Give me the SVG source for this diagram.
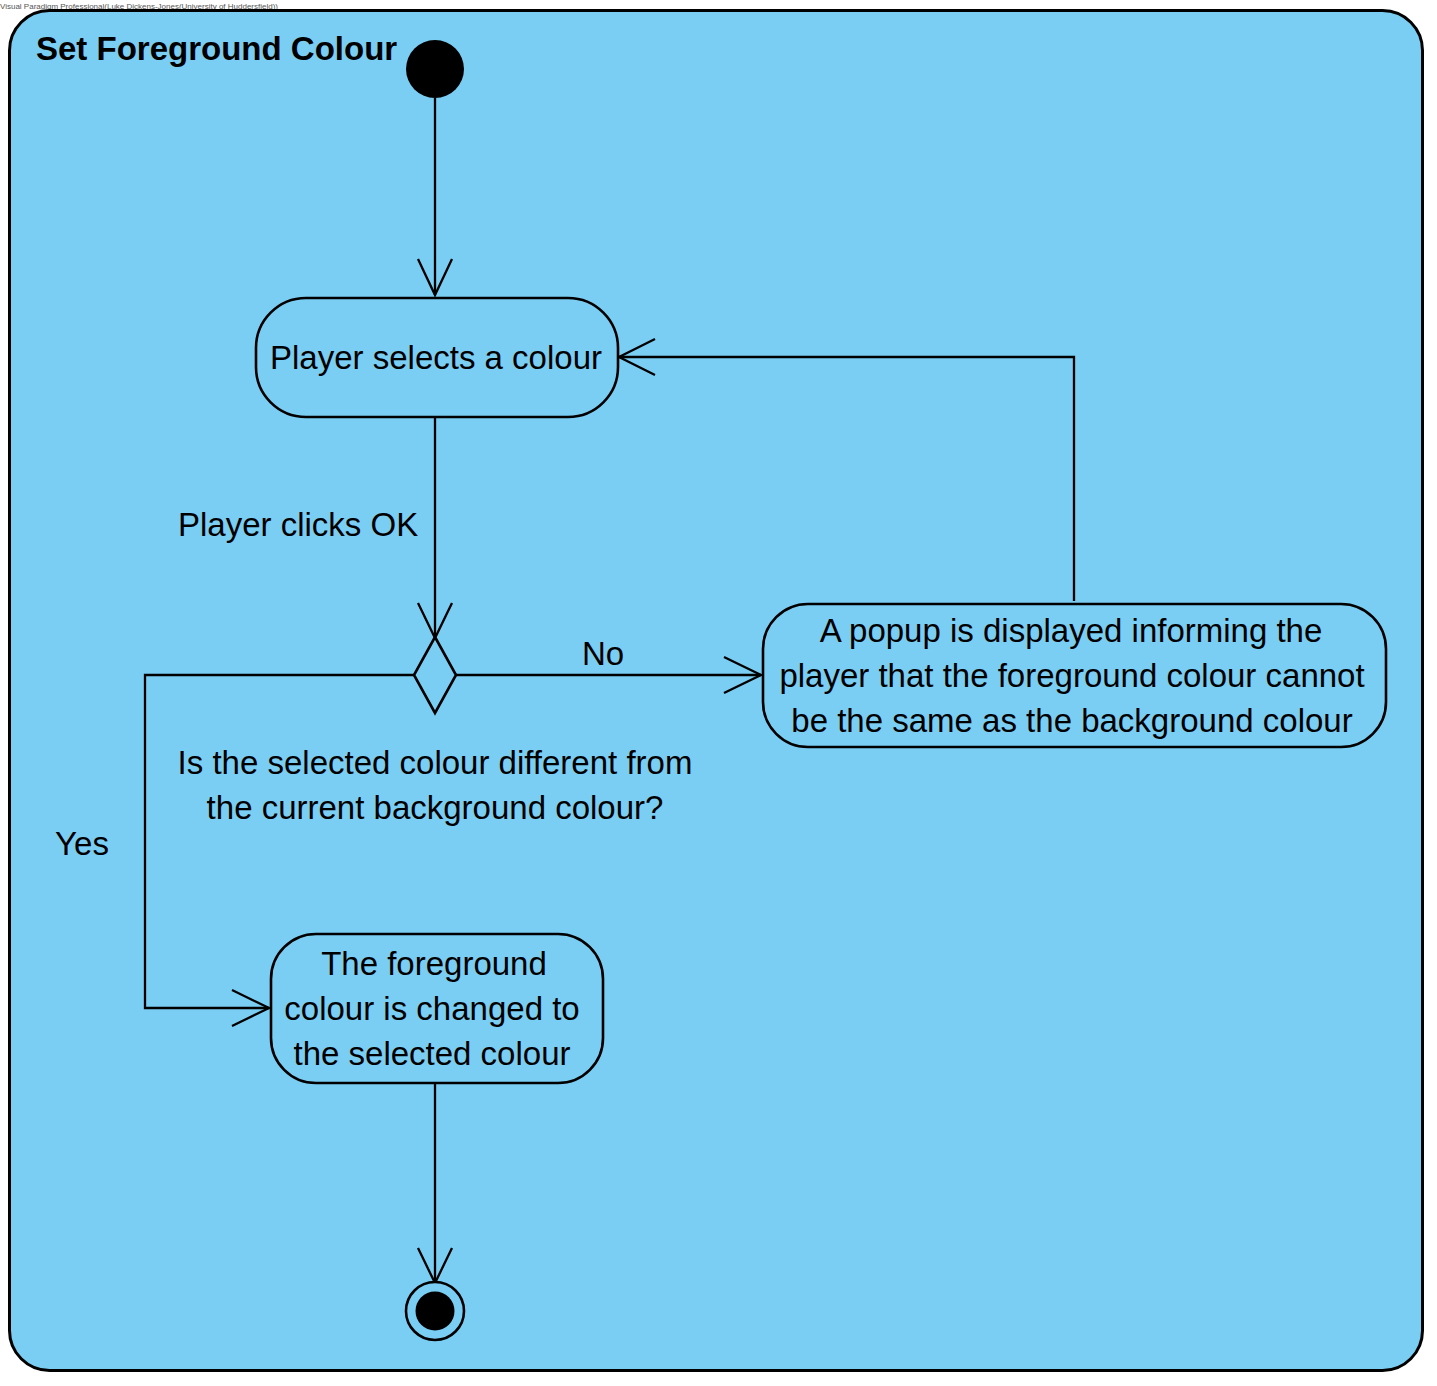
<svg xmlns="http://www.w3.org/2000/svg" width="1437" height="1386" viewBox="0 0 1437 1386">
  <defs>
    <style>
      .txt { font-family: "Liberation Sans", Arial, sans-serif; font-size: 33px; fill: #000; }
      .title { font-family: "Liberation Sans", Arial, sans-serif; font-size: 33px; font-weight: bold; fill: #000; }
      .node { fill: #7ACEF4; stroke: #000; stroke-width: 2.6; }
      .edge { fill: none; stroke: #000; stroke-width: 2.3; }
      .head { fill: none; stroke: #000; stroke-width: 2.3; }
    </style>
  </defs>
  <rect x="0" y="0" width="1437" height="1386" fill="#ffffff"/>
  <text x="0" y="9" font-family="Liberation Sans, Arial, sans-serif" font-size="8" fill="#555" textLength="278" lengthAdjust="spacingAndGlyphs">Visual Paradigm Professional(Luke Dickens-Jones(University of Huddersfield))</text>

  <g id="frame">
    <rect x="9.5" y="10.5" width="1413" height="1360" rx="40" ry="40" fill="#7ACEF4" stroke="#000" stroke-width="3"/>
    <text class="title" x="36" y="60">Set Foreground Colour</text>
  </g>

  <g id="connectors">
    <line class="edge" x1="435" y1="98" x2="435" y2="295"/>
    <polyline class="head" points="418,259 435,295 452,259"/>

    <line class="edge" x1="435" y1="418" x2="435" y2="637"/>
    <polyline class="head" points="418,603 435,638 452,603"/>
    <text class="txt" x="178" y="536">Player clicks OK</text>

    <line class="edge" x1="456" y1="675" x2="761" y2="675"/>
    <polyline class="head" points="724,657 761,675 724,693"/>
    <text class="txt" x="603" y="665" text-anchor="middle">No</text>

    <polyline class="edge" points="1074,601 1074,357 619,357"/>
    <polyline class="head" points="655,339 619,357 655,375"/>

    <polyline class="edge" points="414,675 145,675 145,1008 269,1008"/>
    <polyline class="head" points="232,990 269,1008 232,1026"/>
    <text class="txt" x="82" y="855" text-anchor="middle">Yes</text>

    <line class="edge" x1="435" y1="1084" x2="435" y2="1282"/>
    <polyline class="head" points="418,1248 435,1283 452,1248"/>
  </g>

  <g id="initial">
    <circle cx="435" cy="69" r="29" fill="#000"/>
  </g>

  <g id="select-colour">
    <rect class="node" x="256" y="298" width="362" height="119" rx="50" ry="50"/>
    <text class="txt" x="436" y="369" text-anchor="middle">Player selects a colour</text>
  </g>

  <g id="decision">
    <polygon class="node" points="435,637 456,675 435,713 414,675"/>
    <text class="txt" x="435" y="774" text-anchor="middle">Is the selected colour different from</text>
    <text class="txt" x="435" y="819" text-anchor="middle">the current background colour?</text>
  </g>

  <g id="popup">
    <rect class="node" x="763" y="604" width="623" height="143" rx="45" ry="45"/>
    <text class="txt" x="1071" y="642" text-anchor="middle">A popup is displayed informing the</text>
    <text class="txt" x="1072" y="687" text-anchor="middle">player that the foreground colour cannot</text>
    <text class="txt" x="1072" y="732" text-anchor="middle">be the same as the background colour</text>
  </g>

  <g id="change-colour">
    <rect class="node" x="271" y="934" width="332" height="149" rx="45" ry="45"/>
    <text class="txt" x="434" y="975" text-anchor="middle">The foreground</text>
    <text class="txt" x="432" y="1020" text-anchor="middle">colour is changed to</text>
    <text class="txt" x="432" y="1065" text-anchor="middle">the selected colour</text>
  </g>

  <g id="final">
    <circle cx="435" cy="1311" r="29" fill="#7ACEF4" stroke="#000" stroke-width="2.6"/>
    <circle cx="435" cy="1311" r="19.5" fill="#000"/>
  </g>
</svg>
